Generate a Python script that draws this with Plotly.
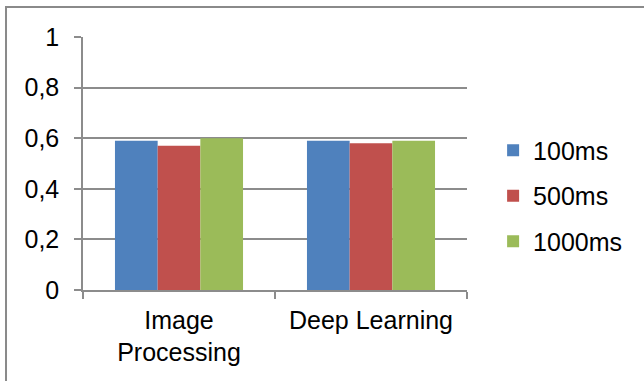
import plotly.graph_objects as go

# Categories and series
categories = ["Image Processing", "Deep Learning"]
category_labels = ["Image<br>Processing", "Deep Learning"]
series_names = ["100ms", "500ms", "1000ms"]
values_100ms = [0.59, 0.59]
values_500ms = [0.57, 0.58]
values_1000ms = [0.60, 0.59]
y_ticks = [0, 0.2, 0.4, 0.6, 0.8, 1]

colors = ["#4F81BD", "#C0504D", "#9BBB59"]
grid_color = "#8C8C8C"
font_family = "Liberation Sans, Arial, sans-serif"
font_size = 25

fig = go.Figure()
for name, vals, col in zip(series_names, [values_100ms, values_500ms, values_1000ms], colors):
    fig.add_trace(go.Bar(x=categories, y=vals, name=name, legendgroup=name,
                         marker=dict(color=col, line=dict(width=0))))

fig.update_layout(
    width=644, height=381,
    margin=dict(l=83, r=177, t=37, b=91, autoexpand=False),
    paper_bgcolor="white", plot_bgcolor="white",
    barmode="group", bargap=0.333, bargroupgap=0,
    separators=", ",
    font=dict(family=font_family, size=font_size, color="black"),
    showlegend=True,
    legend=dict(x=1.068, y=0.372, xanchor="left", yanchor="middle",
                font=dict(size=font_size), bgcolor="rgba(0,0,0,0)",
                traceorder="grouped", tracegroupgap=10),
    xaxis=dict(type="category", tickmode="array", tickvals=categories,
               ticktext=category_labels, tickson="boundaries",
               ticks="outside", ticklen=7, tickwidth=1.5, tickcolor=grid_color,
               showline=True, linecolor=grid_color, linewidth=1.5,
               tickfont=dict(size=font_size), ticklabelstandoff=7,
               showgrid=False, range=[-0.5, 1.5], fixedrange=True),
    yaxis=dict(range=[0, 1], tickmode="array", tickvals=y_ticks,
               ticks="outside", ticklen=7, tickwidth=1.5, tickcolor=grid_color,
               showline=True, linecolor=grid_color, linewidth=1.5,
               tickfont=dict(size=font_size),
               showgrid=True, gridcolor=grid_color, gridwidth=1.5,
               zeroline=False, ticklabelstandoff=10),
    shapes=[dict(type="rect", xref="paper", yref="paper",
                 x0=-0.2005, x1=2, y0=-1, y1=1.1186,
                 line=dict(color="#8A8A8A", width=2), layer="below")],
)

fig.write_html("out.html")
